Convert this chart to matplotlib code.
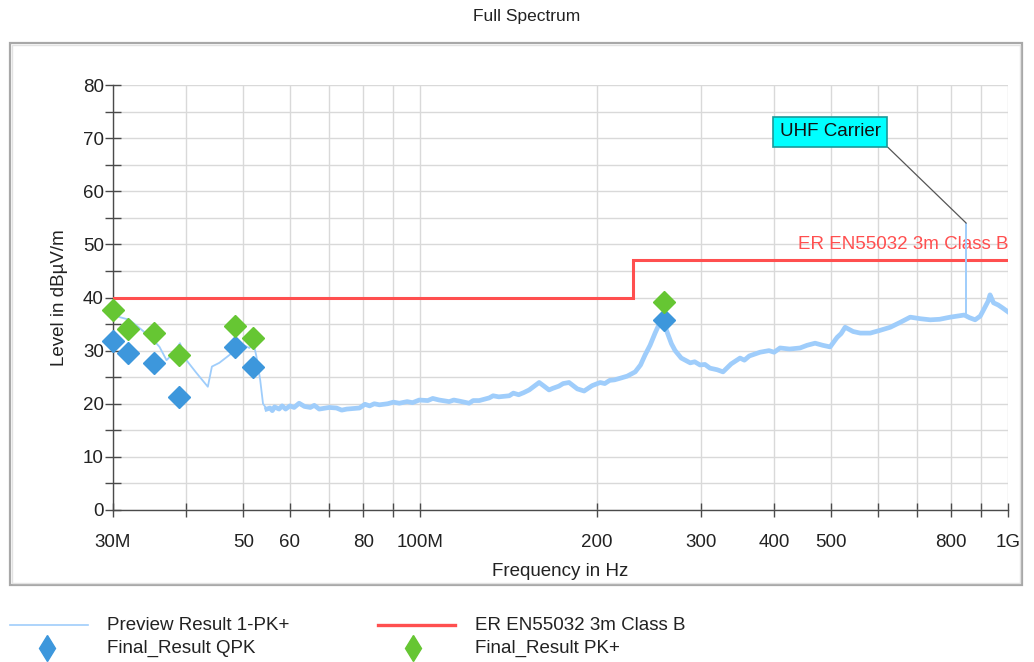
import matplotlib
matplotlib.use("Agg")
import matplotlib.pyplot as plt
from matplotlib.lines import Line2D
from matplotlib.patches import Rectangle
from matplotlib.ticker import FixedLocator, FixedFormatter, NullFormatter

plt.rcParams['font.family'] = ['Liberation Sans', 'DejaVu Sans']

# ---------------- data ----------------
title = "Full Spectrum"
x_label = "Frequency in Hz"
y_label = "Level in dBµV/m"

# preview trace, low band (30 - 55 MHz)
trace_low_freq = [30.0, 30.8, 32.0, 33.5, 35.0, 36.0, 37.0, 38.0, 39.0, 40.0, 41.6,
                  43.5, 44.2, 45.5, 47.5, 48.5, 50.1, 51.2, 52.0, 52.6, 53.4, 54.0, 54.8]
trace_low_level = [37.0, 36.3, 35.8, 34.0, 32.2, 30.7, 28.2, 29.5, 31.4, 28.2, 25.8,
                   23.2, 27.0, 27.7, 29.3, 30.2, 31.0, 30.5, 31.5, 29.0, 24.5, 20.0, 19.0]

# preview trace, main band (55 MHz - 1 GHz)
trace_freq = [54.8, 55.5, 56.0, 56.5, 57.5, 58.2, 59.0, 60.0, 61.0, 62.2, 63.5, 65.0, 66.0,
              67.3, 70.0, 72.0, 73.5, 75.0, 78.8, 80.5, 82.0, 83.5, 85.2, 88.0, 90.0, 92.1,
              95.0, 97.0, 99.6, 103.0, 105.0, 107.7, 112.0, 114.0, 116.5, 121.1, 123.0,
              126.0, 131.0, 133.0, 136.0, 141.7, 144.0, 147.0, 150.0, 153.2, 159.3, 162.0,
              165.6, 168.0, 172.0, 175.0, 179.1, 185.0, 190.0, 196.0, 202.3, 206.0, 210.0,
              214.0, 218.8, 225.0, 232.1, 237.0, 241.3, 246.0, 250.9, 254.0, 257.9, 261.0,
              264.0, 267.5, 271.4, 278.0, 287.9, 293.0, 299.2, 305.0, 311.1, 320.0, 327.4,
              338.0, 350.0, 356.0, 363.0, 378.6, 392.0, 400.0, 409.4, 425.0, 442.7, 455.0,
              469.6, 484.0, 498.1, 512.0, 520.0, 528.3, 545.0, 560.6, 582.9, 605.0, 630.5,
              655.0, 681.8, 710.0, 737.6, 765.0, 797.6, 820.0, 842.6, 860.0, 879.0, 897.0,
              914.0, 925.0, 932.0, 945.0, 962.0, 980.0, 1000.0]
trace_level = [19.0, 19.2, 18.7, 19.4, 19.0, 19.6, 19.0, 19.6, 19.3, 20.1, 19.5, 19.3, 19.7,
               19.0, 19.3, 19.2, 18.8, 19.0, 19.2, 19.9, 19.6, 20.0, 19.8, 20.0, 20.3, 20.1,
               20.4, 20.2, 20.7, 20.6, 21.0, 20.7, 20.4, 20.7, 20.5, 20.1, 20.6,
               20.6, 21.1, 21.5, 21.3, 21.5, 22.0, 21.7, 22.1, 22.6, 24.0, 23.4,
               22.6, 22.9, 23.3, 23.8, 24.0, 22.8, 22.4, 23.4, 24.0, 23.8, 24.4,
               24.5, 24.8, 25.2, 26.0, 27.3, 29.2, 31.0, 33.3, 34.6, 35.8, 34.5,
               33.0, 31.3, 30.0, 28.6, 27.7, 27.9, 27.3, 27.4, 26.7, 26.4, 26.0,
               27.5, 28.6, 28.2, 29.0, 29.7, 30.0, 29.7, 30.5, 30.3, 30.5, 31.0,
               31.4, 31.0, 30.7, 32.5, 33.2, 34.4, 33.6, 33.3, 33.3, 33.8, 34.4,
               35.3, 36.3, 36.0, 35.8, 35.9, 36.3, 36.5, 36.7, 36.2, 35.8, 36.5,
               38.2, 39.3, 40.5, 39.0, 38.6, 38.0, 37.3]

# narrow UHF carrier spike
spike_freq = [849.0]
spike_base = [36.5]
spike_top = [54.0]

# limit line
limit_name = "ER EN55032 3m Class B"
limit_freq = [30, 230, 230, 1000]
limit_level = [40, 40, 47, 47]

# final results
qpk_freq = [30.0, 31.8, 35.2, 38.8, 48.4, 51.9, 259.8]
qpk_level = [31.8, 29.6, 27.7, 21.3, 30.7, 26.9, 35.8]
pk_freq = [30.0, 31.8, 35.2, 38.8, 48.4, 51.9, 259.8]
pk_level = [37.6, 34.1, 33.3, 29.2, 34.6, 32.4, 39.2]

x_ticks = [30, 40, 50, 60, 70, 80, 90, 100, 200, 300, 400, 500, 600, 700, 800, 900, 1000]
x_tick_labels = ["30M", "", "50", "60", "", "80", "", "100M", "200", "300", "400", "500",
                 "", "", "800", "", "1G"]
y_major = [0, 10, 20, 30, 40, 50, 60, 70, 80]
y_minor = [5, 15, 25, 35, 45, 55, 65, 75]

annotation_text = "UHF Carrier"
annotation_pos = [498, 71.2]

legend_labels = ["Preview Result 1-PK+", "Final_Result QPK", "ER EN55032 3m Class B",
                 "Final_Result PK+"]

# ---------------- style ----------------
TRACE_C = '#9fcdfb'
LIMIT_C = '#ff4f4f'
QPK_C = '#3d97dc'
PK_C = '#66c633'
GRID_C = '#d9d9d9'
AX_C = '#4a4a4a'
FS = 13.5

W, H = 1034, 662
fig = plt.figure(figsize=(W / 100, H / 100), dpi=100)
fig.patch.set_facecolor('white')

# outer frame
fig.add_artist(Rectangle((10 / W, 1 - 585 / H), 1012 / W, 542 / H, transform=fig.transFigure,
                         fill=False, edgecolor='#a8a8a8', lw=1.6))
fig.add_artist(Rectangle((12 / W, 1 - 583 / H), 1008 / W, 538 / H, transform=fig.transFigure,
                         fill=False, edgecolor='#e2e2e2', lw=1.0))

ax = fig.add_axes([113 / W, 1 - 510 / H, 895 / W, 425 / H])
ax.set_xscale('log')
ax.set_xlim(30, 1000)
ax.set_ylim(0, 80)

ax.xaxis.set_major_locator(FixedLocator(x_ticks))
ax.xaxis.set_major_formatter(FixedFormatter(x_tick_labels))
ax.xaxis.set_minor_locator(FixedLocator([]))
ax.xaxis.set_minor_formatter(NullFormatter())
ax.yaxis.set_major_locator(FixedLocator(y_major))
ax.yaxis.set_minor_locator(FixedLocator(y_minor))

ax.grid(True, which='both', color=GRID_C, lw=1.0)
ax.set_axisbelow(True)
for s in ['top', 'right']:
    ax.spines[s].set_visible(False)
for s in ['left', 'bottom']:
    ax.spines[s].set_color(AX_C)
    ax.spines[s].set_linewidth(1.0)
ax.tick_params(axis='both', which='both', direction='inout', color=AX_C, width=1.0,
               labelsize=FS, labelcolor='#222222')
ax.tick_params(axis='y', which='major', length=11, pad=1)
ax.tick_params(axis='y', which='minor', length=11)
ax.tick_params(axis='x', which='major', length=10, pad=12)

# limit
ax.plot(limit_freq, limit_level, color=LIMIT_C, lw=2.2, solid_joinstyle='miter', zorder=3)
ax.text(1000, 49.9, limit_name, color=LIMIT_C, fontsize=FS, ha='right', va='center', zorder=4)

# trace
ax.plot(trace_low_freq, trace_low_level, color=TRACE_C, lw=1.3, zorder=4)
ax.plot(trace_freq, trace_level, color=TRACE_C, lw=3.4, zorder=4, solid_joinstyle='round')
ax.vlines(spike_freq, spike_base, spike_top, color=TRACE_C, lw=1.4, zorder=4)

# final results
ax.plot(qpk_freq, qpk_level, ls='none', marker='D', ms=11, color=QPK_C, mec=QPK_C,
        clip_on=False, zorder=6)
ax.plot(pk_freq, pk_level, ls='none', marker='D', ms=11, color=PK_C, mec=PK_C,
        clip_on=False, zorder=6)

# annotation
ax.annotate(annotation_text, xy=(spike_freq[0], spike_top[0]), xytext=annotation_pos,
            textcoords='data', ha='center', va='center', fontsize=FS, color='#111111',
            bbox=dict(boxstyle='square,pad=0.35', fc='#00ffff', ec='#1a9a9a', lw=1.2),
            arrowprops=dict(arrowstyle='-', color='#555555', lw=0.9,
                            relpos=(1.0, 0.0), shrinkA=0, shrinkB=0),
            zorder=7)

ax.set_xlabel(x_label, fontsize=FS, labelpad=9, color='#222222')
ax.set_ylabel(y_label, fontsize=FS, labelpad=11, color='#222222')
fig.text(527 / W, 1 - 17 / H, title, ha='center', va='center', fontsize=12.5, color='#222222')

# legend (manual, below frame)
r1, r2 = 1 - 625 / H, 1 - 648 / H
fig.add_artist(Line2D([10 / W, 88 / W], [r1, r1], transform=fig.transFigure, color=TRACE_C, lw=1.2))
fig.add_artist(Line2D([378 / W, 455 / W], [r1, r1], transform=fig.transFigure, color=LIMIT_C, lw=2.4))
fig.add_artist(Line2D([47 / W], [r2], transform=fig.transFigure, ls='none', marker='d', ms=13,
                      color=QPK_C))
fig.add_artist(Line2D([413 / W], [r2], transform=fig.transFigure, ls='none', marker='d', ms=13,
                      color=PK_C))
fig.text(107 / W, r1, legend_labels[0], fontsize=FS, va='center', color='#222222')
fig.text(107 / W, r2, legend_labels[1], fontsize=FS, va='center', color='#222222')
fig.text(475 / W, r1, legend_labels[2], fontsize=FS, va='center', color='#222222')
fig.text(475 / W, r2, legend_labels[3], fontsize=FS, va='center', color='#222222')

fig.savefig('out.png', dpi=100)
